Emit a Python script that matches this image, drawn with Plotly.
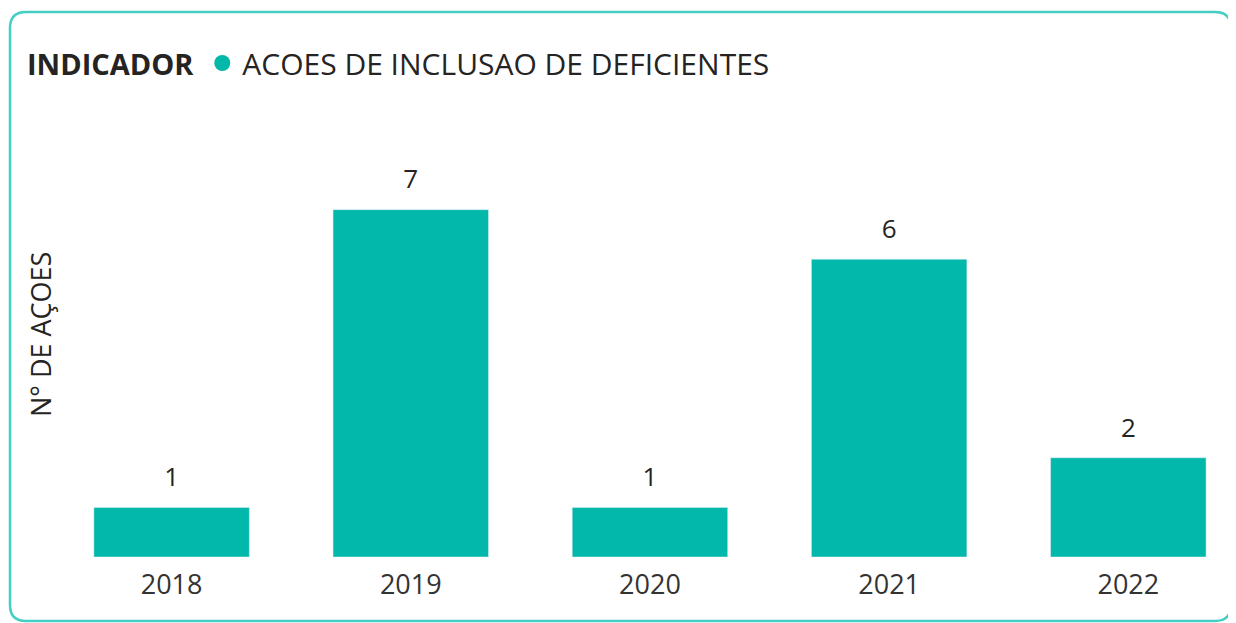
import plotly.graph_objects as go

years = ["2018", "2019", "2020", "2021", "2022"]
acoes = [1, 7, 1, 6, 2]
series_name = "ACOES DE INCLUSAO DE DEFICIENTES"
legend_title = "INDICADOR"
y_title = "N° DE AÇOES"

BAR = "#01B8AA"
TXT = "#252423"
FONT = "Open Sans, Noto Sans, sans-serif"

# page body has an 8px margin; figure is sized to fill the rest of the window
W, H = 1228, 615
ml, mr, mt, mb = 44, 12, 152, 66
pw, ph = W - ml - mr, H - mt - mb

def px2paper(x, y):
    return (x - ml) / pw, (H - mb - y) / ph

fig = go.Figure()
fig.add_trace(go.Bar(x=years, y=acoes, marker_color=BAR, showlegend=False,
                     hoverinfo="x+y"))
# value labels above bars
fig.add_trace(go.Scatter(x=years, y=acoes, mode="markers+text", text=[str(v) for v in acoes],
                         textposition="top center", showlegend=False, hoverinfo="skip",
                         marker=dict(size=22, opacity=0, color=BAR),
                         textfont=dict(size=26, color=TXT)))
# legend entry with circle marker
fig.add_trace(go.Scatter(x=[None], y=[None], mode="markers", name=series_name,
                         marker=dict(symbol="circle", size=16, color=BAR)))

# y-axis title
tx, ty = px2paper(32, 327)
fig.add_annotation(xref="paper", yref="paper", x=tx, y=ty, text=y_title, textangle=-90,
                   showarrow=False, xanchor="center", yanchor="middle",
                   font=dict(size=27, color=TXT))

# rounded border
x0, y0, x1, y1, r = 2, 4, 1223, 613, 16
def P(x, y):
    a, b = px2paper(x, y)
    return f"{a:.5f},{b:.5f}"
path = (f"M {P(x0+r, y0)} L {P(x1-r, y0)} Q {P(x1, y0)} {P(x1, y0+r)} "
        f"L {P(x1, y1-r)} Q {P(x1, y1)} {P(x1-r, y1)} L {P(x0+r, y1)} "
        f"Q {P(x0, y1)} {P(x0, y1-r)} L {P(x0, y0+r)} Q {P(x0, y0)} {P(x0+r, y0)} Z")
fig.add_shape(type="path", xref="paper", yref="paper", path=path,
              line=dict(color="#45CFC4", width=2.5), layer="above")

lx, ly = px2paper(17, 55)
fig.update_layout(
    width=W, height=H,
    margin=dict(l=ml, r=mr, t=mt, b=mb),
    paper_bgcolor="white", plot_bgcolor="white",
    bargap=0.35,
    font=dict(family=FONT, color=TXT),
    showlegend=True,
    legend=dict(orientation="h", x=lx, y=ly, xanchor="left", yanchor="middle",
                title=dict(text=f"<b>{legend_title}</b>", font=dict(size=29, color=TXT)),
                font=dict(size=30, color=TXT), itemsizing="trace", itemwidth=30,
                bgcolor="rgba(0,0,0,0)"),
    xaxis=dict(type="category", range=[-0.5, 4.4], showgrid=False, zeroline=False,
               showline=False, ticks="", tickfont=dict(size=27, color="#333333"),
               ticklabelstandoff=9, fixedrange=True),
    yaxis=dict(range=[0, 8], showgrid=False, zeroline=False, showticklabels=False,
               showline=False, ticks="", fixedrange=True),
)

fig.write_html("out.html")
